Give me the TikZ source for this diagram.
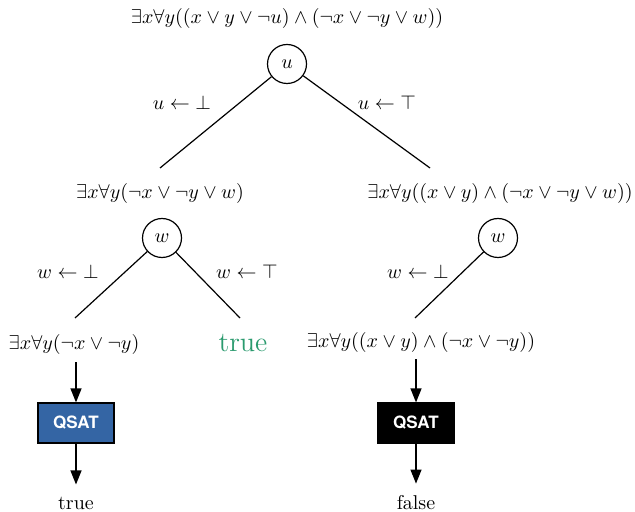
\documentclass[tikz,border=0pt]{standalone}
\usepackage{fontspec}
\newfontfamily\qsatfont{TeX Gyre Heros}
\usepackage{xcolor}
\definecolor{truegreen}{HTML}{2A9A6E}
\definecolor{qsatblue}{HTML}{3465A4}
\usetikzlibrary{arrows.meta, positioning}

\begin{document}
\begin{tikzpicture}[x=0.5pt, y=-0.5pt, line width=0.6pt,
  >={Triangle[length=7pt, width=5.5pt]},
  varnode/.style={draw, circle, minimum size=19.5pt, inner sep=0pt},
  qsatbox/.style={draw, minimum width=38pt, minimum height=20pt,
    font=\qsatfont\bfseries\fontsize{8.5}{10}\selectfont, text=white}]

  \useasboundingbox (0,0) rectangle (635,512);

  % root
  \node (root) at (287,19) {$\exists x \forall y ((x \vee y \vee \neg u) \wedge (\neg x \vee \neg y \vee w))$};
  \node[varnode] (u) at (287,64) {$u$};

  % second level
  \coordinate (uleft) at (160,168);
  \coordinate (uright) at (430,168);
  \draw (u) -- (uleft);
  \draw (u) -- (uright);
  \node (ulabel1) at (182,103) {$u \leftarrow \bot$};
  \node (ulabel2) at (387,103) {$u \leftarrow \top$};

  \node (lform) at (160,194) {$\exists x \forall y (\neg x \vee \neg y \vee w)$};
  \node (rform) at (500,194) {$\exists x \forall y ((x \vee y) \wedge (\neg x \vee \neg y \vee w))$};
  \node[varnode] (wl) at (162,238) {$w$};
  \node[varnode] (wr) at (498,238) {$w$};

  % third level
  \coordinate (wlleft) at (75,318);
  \coordinate (wlright) at (240,318);
  \coordinate (wrleft) at (415,318);
  \draw (wl) -- (wlleft);
  \draw (wl) -- (wlright);
  \draw (wr) -- (wrleft);
  \node (wlabel1) at (68,272) {$w \leftarrow \bot$};
  \node (wlabel2) at (247,272) {$w \leftarrow \top$};
  \node (wlabel3) at (418,272) {$w \leftarrow \bot$};

  \node (llform) at (74,345) {$\exists x \forall y (\neg x \vee \neg y)$};
  \node[text=truegreen, font=\fontsize{14}{16}\selectfont] (lrtrue) at (243,343) {true};
  \node (rlform) at (421,342) {$\exists x \forall y ((x \vee y) \wedge (\neg x \vee \neg y))$};

  % solver calls
  \node[qsatbox, fill=qsatblue] (lqsat) at (76,423) {QSAT};
  \node[qsatbox, fill=black] (rqsat) at (416,423) {QSAT};
  \node (ltrue) at (76,503) {true};
  \node (rfalse) at (416,503) {false};

  \draw[->] (lqsat |- llform.south) -- (lqsat);
  \draw[->, shorten >=2.5pt] (lqsat) -- (ltrue);
  \draw[->] (rqsat |- rlform.south) -- (rqsat);
  \draw[->, shorten >=2.5pt] (rqsat) -- (rfalse);

\end{tikzpicture}
\end{document}
